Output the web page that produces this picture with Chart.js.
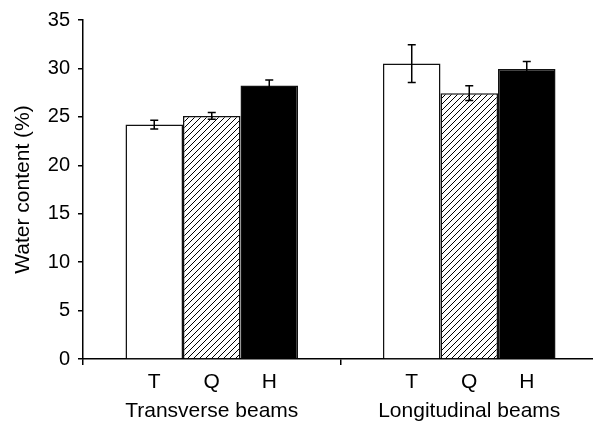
<!DOCTYPE html>
<html>
<head>
<meta charset="utf-8">
<script src="https://cdn.jsdelivr.net/npm/chart.js@4"></script>
<style>
  html, body { margin: 0; padding: 0; background: #fff; overflow: hidden; }
  #wrap { width: 598px; height: 422px; }
</style>
</head>
<body>
<div id="wrap"><canvas id="myChart" width="598" height="422"></canvas></div>
<script>
// data
const groups = ["Transverse beams", "Longitudinal beams"];
const seriesNames = ["T", "Q", "H"];
const tValues = [24.2, 30.5];
const tErrors = [0.45, 1.95];
const qValues = [25.1, 27.45];
const qErrors = [0.35, 0.75];
const hValues = [28.25, 29.95];
const hErrors = [0.55, 0.77];
const yTicks = [0, 5, 10, 15, 20, 25, 30, 35];

// diagonal hatch for the Q bars
function makeHatch() {
  const s = 6;
  const c = document.createElement("canvas");
  c.width = s;
  c.height = s;
  const g = c.getContext("2d");
  g.fillStyle = "#fff";
  g.fillRect(0, 0, s, s);
  g.strokeStyle = "#000";
  g.lineWidth = 1;
  g.beginPath();
  g.moveTo(-1, s + 1); g.lineTo(s + 1, -1);
  g.moveTo(-1, 1); g.lineTo(1, -1);
  g.moveTo(s - 1, s + 1); g.lineTo(s + 1, s - 1);
  g.stroke();
  return g.createPattern(c, "repeat");
}

const ctx = document.getElementById("myChart").getContext("2d");

Chart.defaults.font.family = "'Liberation Sans', Arial, sans-serif";
Chart.defaults.font.size = 20;
Chart.defaults.color = "#000";

// error bars + T/Q/H under each bar
const extras = {
  id: "extras",
  afterDatasetsDraw(chart) {
    const c = chart.ctx;
    const y = chart.scales.y;
    c.save();
    chart.data.datasets.forEach((ds, i) => {
      const meta = chart.getDatasetMeta(i);
      meta.data.forEach((bar, j) => {
        const v = ds.data[j];
        const e = ds.errors[j];
        const top = y.getPixelForValue(v + e);
        const bot = y.getPixelForValue(v - e);
        c.strokeStyle = "#000";
        c.lineWidth = 1.5;
        c.beginPath();
        c.moveTo(bar.x, top); c.lineTo(bar.x, bot);
        c.moveTo(bar.x - 4, top); c.lineTo(bar.x + 4, top);
        c.moveTo(bar.x - 4, bot); c.lineTo(bar.x + 4, bot);
        c.stroke();

        c.fillStyle = "#000";
        c.font = "21px 'Liberation Sans', Arial, sans-serif";
        c.textAlign = "center";
        c.textBaseline = "alphabetic";
        c.fillText(ds.label, bar.x, chart.chartArea.bottom + 29);
      });
    });
    c.restore();
  }
};

const chart = new Chart(ctx, {
  type: "bar",
  data: {
    labels: groups,
    datasets: [
      {
        label: seriesNames[0],
        data: tValues,
        errors: tErrors,
        backgroundColor: "#fff",
      },
      {
        label: seriesNames[1],
        data: qValues,
        errors: qErrors,
        backgroundColor: makeHatch(),
      },
      {
        label: seriesNames[2],
        data: hValues,
        errors: hErrors,
        backgroundColor: "#000",
      },
    ],
  },
  options: {
    responsive: false,
    animation: false,
    devicePixelRatio: 1,
    layout: { padding: { left: 0, top: 7, right: 0, bottom: 0 } },
    datasets: {
      bar: {
        borderColor: "#111",
        borderWidth: 1.5,
        borderSkipped: "bottom",
        categoryPercentage: 0.67,
        barPercentage: 1.0,
      },
    },
    plugins: {
      legend: { display: false },
      tooltip: { enabled: false },
    },
    scales: {
      x: {
        offset: true,
        afterFit(axis) {
          axis.height = 63;
        },
        grid: {
          offset: true,
          drawOnChartArea: false,
          drawTicks: true,
          tickLength: 6,
          color: "#000",
          lineWidth: 1.5,
        },
        border: { display: true, color: "#000", width: 1.5 },
        ticks: { padding: 34, maxRotation: 0, font: { size: 21 } },
      },
      y: {
        min: 0,
        max: 35,
        afterBuildTicks(axis) {
          axis.ticks = yTicks.map((v) => ({ value: v }));
        },
        afterFit(axis) {
          axis.width = 83;
        },
        grid: {
          drawOnChartArea: false,
          drawTicks: true,
          tickLength: 5,
          color: "#000",
          lineWidth: 1.5,
        },
        border: { display: true, color: "#000", width: 1.5 },
        ticks: { padding: 8 },
        title: {
          display: true,
          text: "Water content (%)",
          font: { size: 21 },
          padding: { top: 11, bottom: 0 },
        },
      },
    },
  },
  plugins: [extras],
});
</script>
</body>
</html>
